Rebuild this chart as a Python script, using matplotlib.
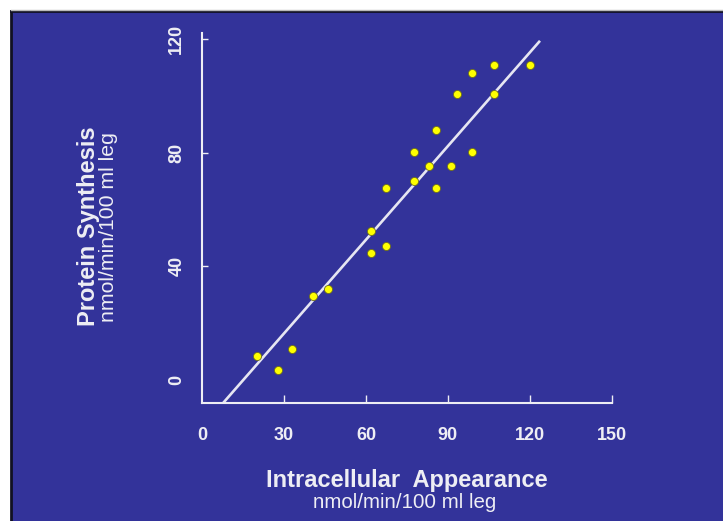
import matplotlib
matplotlib.use("Agg")
import matplotlib.pyplot as plt
from matplotlib.patches import Rectangle

# ---- data ----
x_vals = [20.0, 27.7, 33.0, 40.7, 46.2, 61.8, 61.8, 67.3, 67.3, 77.7, 77.7,
          83.1, 85.6, 85.6, 91.0, 93.5, 98.8, 98.8, 106.8, 106.8, 120.0]
y_vals = [8.6, 3.4, 11.0, 29.5, 32.0, 52.5, 44.7, 47.3, 67.7, 80.4, 70.2,
          75.4, 88.0, 67.7, 75.4, 100.7, 108.3, 80.4, 110.9, 100.7, 110.9]
fit_slope = 1.10
fit_intercept = -16.6
fit_x_range = [7.7, 123.7]

x_ticks = [0, 30, 60, 90, 120, 150]
y_ticks = [0, 40, 80, 120]

x_label = "Intracellular  Appearance"
y_label = "Protein Synthesis"
unit_label = "nmol/min/100 ml leg"

# ---- style ----
BG = "#33339a"
FG = "#eeeef4"
FONT = "Liberation Sans"

W, H = 723, 521
fig = plt.figure(figsize=(W / 100, H / 100), dpi=100, facecolor="white")

# blue slide panel with dark border on top/left
panel = Rectangle((11 / W, 0), 1 - 11 / W, 1 - 11 / H, transform=fig.transFigure,
                  facecolor=BG, edgecolor="none", zorder=-5)
fig.patches.append(panel)
fig.add_artist(plt.Line2D([11 / W, 11 / W], [0, 1 - 11 / H], transform=fig.transFigure,
                          color="#111122", lw=2.0, zorder=-4))
fig.add_artist(plt.Line2D([11 / W, 1], [1 - 11 / H, 1 - 11 / H], transform=fig.transFigure,
                          color="#111122", lw=2.0, zorder=-4))
fig.add_artist(plt.Line2D([11 / W, 1], [1 - 9.5 / H, 1 - 9.5 / H], transform=fig.transFigure,
                          color="#bbbbbb", lw=1.0, zorder=-4))

ax = fig.add_axes([202 / W, 1 - 403 / H, 438 / W, 383 / H])
ax.set_facecolor("none")
ax.set_xlim(0, 160.3)
ax.set_ylim(-8.1, 126.8)

fx = fit_x_range
fy = [fit_slope * v + fit_intercept for v in fx]
ax.plot(fx, fy, color="#e6e6f2", lw=1.9, zorder=2, solid_capstyle="butt")
ax.plot(x_vals, y_vals, "o", ms=5.8, mfc="#ffff00", mec="#6b6b20", mew=0.6, zorder=3)

for s in ["top", "right"]:
    ax.spines[s].set_visible(False)
for s in ["left", "bottom"]:
    ax.spines[s].set_color(FG)
    ax.spines[s].set_linewidth(1.5)
ax.spines["left"].set_bounds(-8.1, 122.2)
ax.spines["bottom"].set_bounds(0, 150)

ax.set_xticks(x_ticks)
ax.set_xticklabels([str(t) for t in x_ticks])
ax.set_yticks(y_ticks)
ax.set_yticklabels([str(t) for t in y_ticks])

ax.tick_params(axis="x", direction="in", length=6, width=1.0, color=FG,
               labelcolor=FG, pad=17)
ax.tick_params(axis="y", direction="in", length=4, width=1.0, color=FG,
               labelcolor=FG, pad=12, labelrotation=90)
for lab in ax.get_xticklabels() + ax.get_yticklabels():
    lab.set_fontfamily(FONT)
    lab.set_fontweight("bold")
    lab.set_fontsize(13)
for lab in ax.get_yticklabels():
    lab.set_va("center")
ax.xaxis.get_major_ticks()[0].tick1line.set_visible(False)
ax.yaxis.get_major_ticks()[0].tick1line.set_visible(False)

fig.text(407 / W, 1 - 480 / H, x_label, color=FG, fontfamily=FONT, fontweight="bold",
         fontsize=17, ha="center", va="center")
fig.text(405 / W, 1 - 502 / H, unit_label, color=FG, fontfamily=FONT,
         fontsize=14.8, ha="center", va="center")
fig.text(88 / W, 1 - 226 / H, y_label, color=FG, fontfamily=FONT, fontweight="bold",
         fontsize=17, ha="center", va="center", rotation=90)
fig.text(109 / W, 1 - 227 / H, unit_label, color=FG, fontfamily=FONT,
         fontsize=15.3, ha="center", va="center", rotation=90)

fig.savefig("out.png", dpi=100, facecolor="white")
